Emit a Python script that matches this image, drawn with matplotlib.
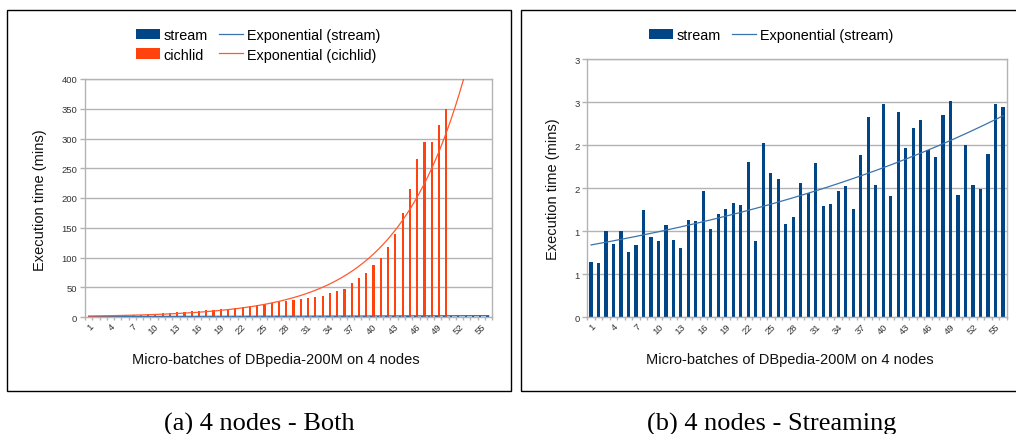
import numpy as np
import matplotlib
matplotlib.use("Agg")
import matplotlib.pyplot as plt
from matplotlib.patches import Rectangle, Patch
from matplotlib.lines import Line2D

# ---------------- data ----------------
batches = list(range(1, 57))
stream = [0.64, 0.625, 1.0, 0.85, 1.0, 0.76, 0.84, 1.25, 0.93, 0.89,
          1.07, 0.90, 0.80, 1.125, 1.12, 1.47, 1.03, 1.195, 1.26, 1.33,
          1.30, 1.80, 0.88, 2.02, 1.68, 1.61, 1.086, 1.164, 1.56, 1.445,
          1.79, 1.29, 1.32, 1.47, 1.52, 1.26, 1.89, 2.33, 1.535, 2.48,
          1.41, 2.39, 1.97, 2.20, 2.29, 1.94, 1.86, 2.35, 2.52, 1.42,
          2.00, 1.54, 1.49, 1.90, 2.48, 2.44]
cichlid = [0.5, 1.1, 1.7, 1.7, 2.3, 2.8, 3.4, 4.0, 5.0, 5.0,
           6.2, 7.3, 8.5, 9.0, 9.6, 10.7, 11.9, 12.4, 14.0, 14.0,
           15.8, 17.0, 18.6, 19.8, 22.0, 23.0, 25.4, 26.5, 29.0, 30.5,
           32.0, 33.3, 35.0, 39.5, 44.0, 47.0, 56.5, 65.0, 73.4, 87.6,
           100.0, 117.0, 140.0, 174.0, 215.0, 266.0, 294.0, 294.0, 323.0, 350.0]
xtick_labels = [str(b) for b in range(1, 57, 3)]
left_yticks = [0, 50, 100, 150, 200, 250, 300, 350, 400]
right_yticks = [0, 0.5, 1.0, 1.5, 2.0, 2.5, 3.0]
right_ytick_labels = ['0', '1', '1', '2', '2', '3', '3']
xlabel = "Micro-batches of DBpedia-200M on 4 nodes"
ylabel = "Execution time (mins)"
captions = ["(a) 4 nodes - Both", "(b) 4 nodes - Streaming"]

BLUE = '#004586'
ORANGE = '#ff420e'
BLUE_T = '#3a74ad'
ORANGE_T = '#ff5a2e'
GRID = '#b3b3b3'

W, H = 1016, 435
fig = plt.figure(figsize=(W / 100, H / 100), dpi=100)
plt.rcParams['font.family'] = ['Liberation Sans', 'DejaVu Sans']


def fx(px):
    return px / W


def fy(py):
    return 1 - py / H


def expfit(x, y):
    b, a = np.polyfit(np.asarray(x, float), np.log(np.asarray(y, float)), 1)
    return lambda t: np.exp(a + b * t)


def style_axes(ax, yticks, ylabels):
    ax.set_xlim(0.5, 56.5)
    ax.set_ylim(yticks[0], yticks[-1])
    ax.set_yticks(yticks)
    ax.set_yticklabels(ylabels)
    ax.yaxis.grid(True, color=GRID, linewidth=1.0)
    ax.set_axisbelow(True)
    for s in ax.spines.values():
        s.set_color(GRID)
        s.set_linewidth(1.0)
    ax.set_xticks(np.arange(0.5, 57, 1.0))
    ax.set_xticklabels([])
    ax.set_xticks(list(range(1, 57, 3)), minor=True)
    ax.set_xticklabels(xtick_labels, minor=True, rotation=45, ha='right',
                       va='top', rotation_mode='anchor', fontsize=6.8, color='#333333')
    ax.tick_params(axis='x', which='major', length=2.5, color=GRID, width=1.0)
    ax.tick_params(axis='x', which='minor', length=0, pad=3)
    ax.tick_params(axis='y', length=3.5, color=GRID, width=1.0, labelsize=6.8,
                   labelcolor='#333333', pad=2)


x = np.array(batches, float)
xs = np.linspace(1, 56, 300)

# ---------------- left panel ----------------
ax1 = fig.add_axes([fx(85), fy(318), fx(492.3 - 85), (318 - 80) / H])
ax1.bar(x - 0.17, stream, width=0.3, color=BLUE, zorder=2)
ax1.bar(x[:len(cichlid)] + 0.17, cichlid, width=0.3, color=ORANGE, zorder=2)
ax1.plot(xs, expfit(batches, stream)(xs), color=BLUE_T, lw=0.9, zorder=3)
ax1.plot(xs, expfit(batches[:len(cichlid)], cichlid)(xs), color=ORANGE_T, lw=0.9, zorder=3)
style_axes(ax1, left_yticks, [str(v) for v in left_yticks])

# ---------------- right panel ----------------
ax2 = fig.add_axes([fx(587.3), fy(318), fx(1006.7 - 587.3), (318 - 60.3) / H])
ax2.bar(x, stream, width=0.42, color=BLUE, zorder=2)
ax2.plot(xs, expfit(batches, stream)(xs), color=BLUE_T, lw=0.9, zorder=3)
style_axes(ax2, right_yticks, right_ytick_labels)

# ---------------- axis labels ----------------
fig.text(fx(276), fy(360), xlabel, ha='center', va='center', fontsize=10.5, color='#111111')
fig.text(fx(790), fy(360), xlabel, ha='center', va='center', fontsize=10.5, color='#111111')
fig.text(fx(40), fy(200), ylabel, ha='center', va='center', rotation=90, fontsize=10.5, color='#111111')
fig.text(fx(553), fy(189), ylabel, ha='center', va='center', rotation=90, fontsize=10.5, color='#111111')

# ---------------- legends ----------------
h_stream = Patch(facecolor=BLUE, edgecolor='none')
h_cich = Patch(facecolor=ORANGE, edgecolor='none')
h_es = Line2D([], [], color=BLUE_T, lw=0.9)
h_ec = Line2D([], [], color=ORANGE_T, lw=0.9)
leg_kw = dict(frameon=False, fontsize=10.4, handlelength=1.7, handleheight=0.7,
              handletextpad=0.25, columnspacing=0.75, labelspacing=0.35,
              borderpad=0, borderaxespad=0)
fig.legend([h_stream, h_cich, h_es, h_ec],
           ['stream', 'cichlid', 'Exponential (stream)', 'Exponential (cichlid)'],
           ncol=2, loc='center', bbox_to_anchor=(fx(258), fy(46)), **leg_kw)
fig.legend([h_stream, h_es], ['stream', 'Exponential (stream)'],
           ncol=2, loc='center', bbox_to_anchor=(fx(771), fy(36)), **leg_kw)

# ---------------- panel borders ----------------
fig.add_artist(Rectangle((fx(7), fy(392)), fx(511 - 7), (392 - 11) / H,
                         transform=fig.transFigure, fill=False, ec='black', lw=1.0))
fig.add_artist(Rectangle((fx(521), fy(392)), fx(1030 - 521), (392 - 11) / H,
                         transform=fig.transFigure, fill=False, ec='black', lw=1.0))

# ---------------- captions ----------------
fig.text(fx(259), fy(431), captions[0], ha='center', va='baseline', fontsize=19,
         family=['Liberation Serif', 'DejaVu Serif'])
fig.text(fx(772), fy(431), captions[1], ha='center', va='baseline', fontsize=19,
         family=['Liberation Serif', 'DejaVu Serif'])

fig.savefig('out.png', dpi=100)
